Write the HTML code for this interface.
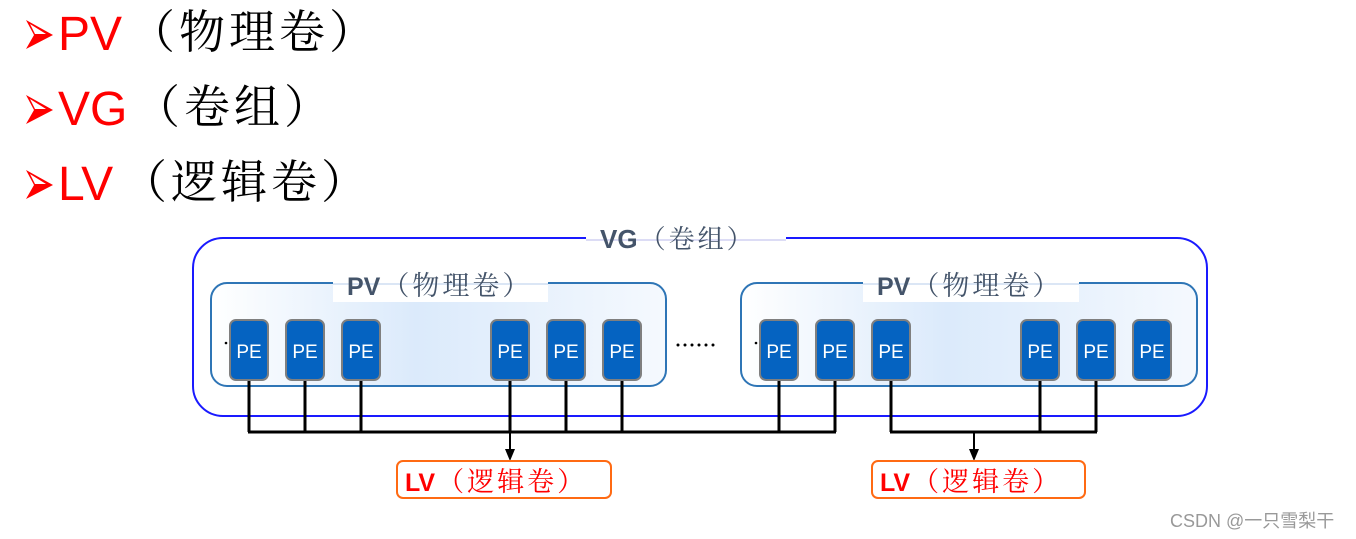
<!DOCTYPE html>
<html><head><meta charset="utf-8"><style>
html,body{margin:0;padding:0;background:#fff;width:1356px;height:539px;overflow:hidden}
.se{font-family:"Noto Serif CJK SC","Noto Sans CJK SC",serif}
.sa{font-family:"Liberation Sans",sans-serif}
</style></head><body>
<svg width="1356" height="539" xmlns="http://www.w3.org/2000/svg">
<defs>
<linearGradient id="g" x1="0" x2="1" y1="0" y2="0">
<stop offset="0" stop-color="#ffffff"/><stop offset="0.45" stop-color="#dbeafb"/><stop offset="1" stop-color="#f5f9fe"/>
</linearGradient>
</defs>
<g fill="#ff0000">
<path d="M26,20 L53,35 L26,49 L34,35 Z"/>
<path d="M26,95 L53,110 L26,124 L34,110 Z"/>
<path d="M26,170 L53,185 L26,199 L34,185 Z"/>
</g>
<g fill="#fff">
<path d="M30,24 L46,34 L35,34 Z"/>
<path d="M30,99 L46,109 L35,109 Z"/>
<path d="M30,174 L46,184 L35,184 Z"/>
</g>
<g class="sa" font-size="48" fill="#ff0000">
<text x="58" y="50">PV</text><text x="58" y="125">VG</text><text x="58" y="200">LV</text>
</g>
<g class="se" font-size="46" fill="#000" letter-spacing="4">
<text x="129" y="48">（物理卷）</text><text x="134" y="123">（卷组）</text><text x="121" y="198">（逻辑卷）</text>
</g>
<rect x="193" y="238" width="1014" height="178" rx="30" fill="none" stroke="#1a1aff" stroke-width="2"/>
<rect x="586" y="228" width="200" height="22" fill="#fff"/>
<line x1="586" y1="240" x2="786" y2="240" stroke="#dcdcf5" stroke-width="2"/>
<text x="600" y="248" font-size="26" fill="#44546a"><tspan class="sa" font-weight="bold">VG</tspan><tspan class="se" dx="2" letter-spacing="3">（卷组）</tspan></text>
<rect x="211" y="283" width="455" height="103" rx="16" fill="url(#g)" stroke="#2e75b6" stroke-width="2"/>
<rect x="741" y="283" width="456" height="103" rx="16" fill="url(#g)" stroke="#2e75b6" stroke-width="2"/>
<rect x="333" y="273" width="215" height="29" fill="#fff"/>
<rect x="863" y="273" width="216" height="29" fill="#fff"/>
<line x1="333" y1="284" x2="548" y2="284" stroke="#dbe6f5" stroke-width="2"/>
<line x1="863" y1="284" x2="1079" y2="284" stroke="#dbe6f5" stroke-width="2"/>
<g font-size="27" fill="#44546a">
<text x="347" y="295"><tspan class="sa" font-weight="bold" font-size="25">PV</tspan><tspan class="se" dx="2" letter-spacing="3">（物理卷）</tspan></text>
<text x="877" y="295"><tspan class="sa" font-weight="bold" font-size="25">PV</tspan><tspan class="se" dx="2" letter-spacing="3">（物理卷）</tspan></text>
</g>
<g stroke="#000" stroke-width="3" fill="none">
<path d="M249,380V432M305,380V432M361,380V432M510,380V432M566,380V432M622,380V432M779,380V432M835,380V432M248,432H836"/>
<path d="M891,380V432M1040,380V432M1096,380V432M890,432H1097"/>
</g>
<g stroke="#000" stroke-width="2">
<line x1="510" y1="432" x2="510" y2="450"/>
<line x1="974" y1="432" x2="974" y2="450"/>
</g>
<g fill="#000">
<path d="M505,449 L515,449 L510,461 Z"/>
<path d="M969,449 L979,449 L974,461 Z"/>
</g>
<g fill="#0563c1" stroke="#7f7f7f" stroke-width="2">
<rect x="230" y="320" width="38" height="60" rx="6"/><rect x="286" y="320" width="38" height="60" rx="6"/><rect x="342" y="320" width="38" height="60" rx="6"/>
<rect x="491" y="320" width="38" height="60" rx="6"/><rect x="547" y="320" width="38" height="60" rx="6"/><rect x="603" y="320" width="38" height="60" rx="6"/>
<rect x="760" y="320" width="38" height="60" rx="6"/><rect x="816" y="320" width="38" height="60" rx="6"/><rect x="872" y="320" width="38" height="60" rx="6"/>
<rect x="1021" y="320" width="38" height="60" rx="6"/><rect x="1077" y="320" width="38" height="60" rx="6"/><rect x="1133" y="320" width="38" height="60" rx="6"/>
</g>
<g class="sa" font-size="19" fill="#fff" text-anchor="middle">
<text x="249" y="358">PE</text><text x="305" y="358">PE</text><text x="361" y="358">PE</text>
<text x="510" y="358">PE</text><text x="566" y="358">PE</text><text x="622" y="358">PE</text>
<text x="779" y="358">PE</text><text x="835" y="358">PE</text><text x="891" y="358">PE</text>
<text x="1040" y="358">PE</text><text x="1096" y="358">PE</text><text x="1152" y="358">PE</text>
</g>
<g fill="#000">
<circle cx="226" cy="343" r="1.3"/><circle cx="756" cy="343" r="1.3"/>
<circle cx="678" cy="345" r="1.5"/><circle cx="685" cy="345" r="1.5"/><circle cx="692" cy="345" r="1.5"/><circle cx="699" cy="345" r="1.5"/><circle cx="706" cy="345" r="1.5"/><circle cx="713" cy="345" r="1.5"/>
</g>
<g fill="#fff" stroke="#ff6a13" stroke-width="2">
<rect x="397" y="461" width="214" height="37" rx="6"/>
<rect x="872" y="461" width="213" height="37" rx="6"/>
</g>
<g font-size="27" fill="#ff0000">
<text x="405" y="491"><tspan class="sa" font-weight="bold" font-size="25">LV</tspan><tspan class="se" dx="2" letter-spacing="3">（逻辑卷）</tspan></text>
<text x="880" y="491"><tspan class="sa" font-weight="bold" font-size="25">LV</tspan><tspan class="se" dx="2" letter-spacing="3">（逻辑卷）</tspan></text>
</g>
<text x="1170" y="527" font-family="'Liberation Sans','Noto Sans CJK SC',sans-serif" font-size="18" fill="#999">CSDN @一只雪梨干</text>
</svg>
</body></html>
